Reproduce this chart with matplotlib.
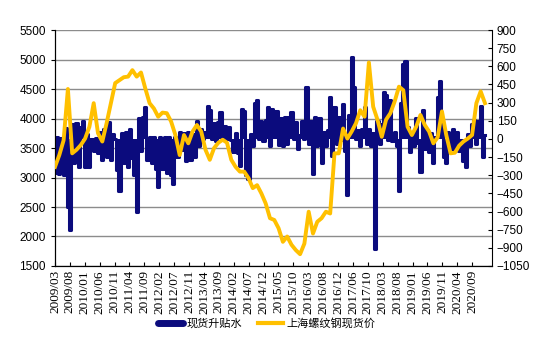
import numpy as np
import matplotlib
matplotlib.use("Agg")
import matplotlib.pyplot as plt
from matplotlib.lines import Line2D

plt.rcParams['font.family'] = ['Liberation Sans', 'Noto Sans CJK SC', 'DejaVu Sans']

tick_labels = ["2009/03", "2009/08", "2010/01", "2010/06", "2010/11", "2011/04", "2011/09",
               "2012/02", "2012/07", "2012/11", "2013/04", "2013/09", "2014/02", "2014/07",
               "2014/12", "2015/05", "2015/10", "2016/03", "2016/08", "2016/12", "2017/06",
               "2017/10", "2018/03", "2018/08", "2019/01", "2019/06", "2019/11", "2020/04",
               "2020/09"]

# 上海螺纹钢现货价 (left axis)
price = [3180, 3380, 3630, 4500, 3410, 3470, 3550, 3660, 3860, 4260,
         3750, 3610, 3920, 4260, 4600, 4650, 4700, 4710, 4820, 4710,
         4780, 4510, 4260, 4170, 4030, 4100, 4090, 3950, 3720, 3380,
         3720, 3580, 3780, 3890, 3780, 3470, 3300, 3500, 3590, 3640,
         3590, 3300, 3180, 3100, 3100, 2990, 2820, 2870, 2730, 2560,
         2310, 2280, 2140, 1910, 2000, 1860, 1770, 1700, 1880, 2420,
         2050, 2250, 2310, 2420, 2390, 3410, 3410, 3830, 3660, 3780,
         3920, 4140, 4030, 4950, 4200, 3980, 3690, 3980, 4090, 4290,
         4540, 4480, 3860, 3720, 3860, 4060, 3890, 3780, 3580, 3680,
         4120, 3720, 3410, 3420, 3540, 3610, 3660, 3720, 4260, 4460,
         4260]

# 现货升贴水 (right axis)
basis = [-280, 20, -290, 10, -300, 90, -560, -750, 120, -200,
         130, -230, 100, 150, -230, 40, -230, 0, -100, 10,
         -120, 60, -170, 80, -150, 140, -170, 40, 0, -260,
         -430, 50, -200, 60, -230, 80, -160, -300, -600, 170,
         -100, 180, 260, -170, 20, -200, 20, -250, -400, 20,
         -250, 20, -280, 20, -300, -370, 20, -150, 60, -90,
         50, -180, 60, -170, 40, -150, 150, -60, 80, 0,
         60, 270, 240, 0, 130, -20, 140, 220, 40, 110,
         0, 100, -10, -110, 50, -120, -220, 250, 230, -300,
         -330, 40, -60, 300, 320, 0, 150, -20, 160, 260,
         -60, 250, 50, 230, -50, 170, -60, 180, -40, 180,
         220, 0, 140, -80, 30, 150, 0, 430, -40, 150,
         -290, 180, -60, 170, -200, 60, -60, 70, 350, -140,
         260, -40, 180, -10, 290, -100, -460, 200, 680, 430,
         0, 70, -60, 80, 260, -40, 80, -60, 50, -910,
         150, -40, 120, 390, 360, -10, 320, -20, 60, -60,
         -430, 300, 620, 640, 100, -110, 40, -60, 170, -30,
         -270, 240, -80, 70, -110, 50, -200, 20, 350, 480,
         100, -150, -200, 60, -80, 80, -90, 60, -100, -10,
         -180, -230, 40, -60, 120, 160, -40, 150, 270, -150,
         30]

x_end = 28.86
x_price = np.linspace(0, x_end, len(price))
x_basis = np.linspace(0, x_end, len(basis))

navy = "#0b0b7d"
gold = "#FFC000"

fig = plt.figure(figsize=(5.5, 3.43), dpi=100)
ax = fig.add_axes([0.1, 0.2245, 0.7945, 0.688])
ax2 = ax.twinx()
ax3 = ax.twinx()

ax.set_ylim(1500, 5500)
ax.set_yticks(np.arange(1500, 5501, 500))
ax.set_xlim(0, 29.33)
ax.set_xticks(np.arange(len(tick_labels)))
ax.set_xticklabels(tick_labels, rotation=90, family=['Liberation Serif'], fontsize=9.5)
ax.tick_params(axis='y', labelsize=8.5, length=3, direction='out')
ax.tick_params(axis='x', length=3, direction='in', pad=3)
ax.grid(axis='y', color='#8c8c8c', lw=1)
ax.set_axisbelow(True)
for s in ['top', 'right']:
    ax.spines[s].set_visible(False)

ax2.fill_between(x_basis, 0, basis, color=navy, lw=0, step='mid')
ax2.plot(x_basis, basis, color=navy, lw=2.2, drawstyle='steps-mid')
ax2.set_ylim(-1050, 900)
ax2.set_yticks(np.arange(-1050, 901, 150))
ax2.tick_params(axis='y', labelsize=8.5, length=3, direction='in')
ax2.spines['top'].set_visible(False)

ax3.plot(x_price, price, color=gold, lw=2.8)
ax3.set_ylim(1500, 5500)
ax3.set_yticks([])
for s in ax3.spines.values():
    s.set_visible(False)

handles = [Line2D([], [], color=navy, lw=5, solid_capstyle='round'),
           Line2D([], [], color=gold, lw=3)]
fig.legend(handles, ["现货升贴水", "上海螺纹钢现货价"], loc='center', ncol=2,
           bbox_to_anchor=(0.485, 0.058), frameon=False,
           prop={'family': ['Noto Sans CJK SC'], 'size': 8},
           handlelength=2.2, columnspacing=1.5, handletextpad=0.3)

fig.savefig("out.png", dpi=100)
